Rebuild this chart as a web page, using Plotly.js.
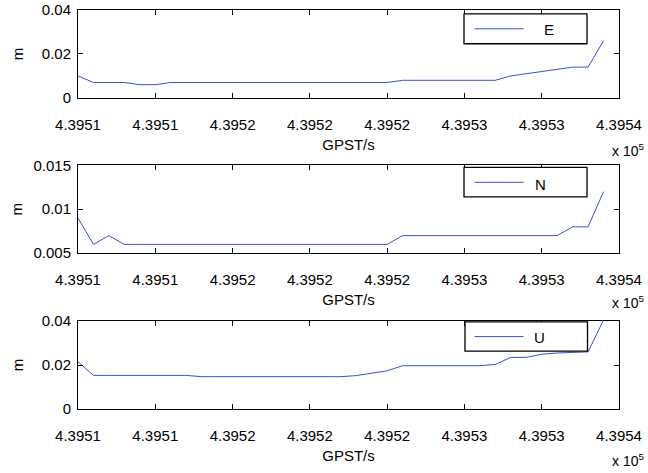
<!DOCTYPE html>
<html>
<head>
<meta charset="utf-8">
<script src="https://cdn.plot.ly/plotly-3.0.1.min.js"></script>
<style>html,body{margin:0;padding:0;background:#fff;}#chart{width:648px;height:473px;}</style>
</head>
<body>
<div id="chart"></div>
<script>
// GPS seconds of week
var gpst = [439505,439506,439507,439508,439509,439510,439511,439512,439513,439514,
            439515,439516,439517,439518,439519,439520,439521,439522,439523,439524,
            439525,439526,439527,439528,439529,439530,439531,439532,439533,439534,
            439535,439536,439537,439538,439539];
var tickVals = [439505,439510,439515,439520,439525,439530,439535,439540];
var tickText = ["4.3951","4.3951","4.3952","4.3952","4.3952","4.3953","4.3953","4.3954"];

// 35 values each (k = 0..34)
var seriesE = [0.010,0.007,0.007,0.007,0.006,0.006,0.007,
               0.007,0.007,0.007,0.007,0.007,0.007,0.007,
               0.007,0.007,0.007,0.007,0.007,0.007,0.007,
               0.008,0.008,0.008,0.008,0.008,0.008,0.008,
               0.010,0.011,0.012,0.013,0.014,0.014,0.026];
var seriesN = [0.009,0.006,0.007,0.006,0.006,0.006,0.006,
               0.006,0.006,0.006,0.006,0.006,0.006,0.006,
               0.006,0.006,0.006,0.006,0.006,0.006,0.006,
               0.007,0.007,0.007,0.007,0.007,0.007,0.007,
               0.007,0.007,0.007,0.007,0.008,0.008,0.012];
var seriesU = [0.0215,0.0153,0.0153,0.0153,0.0153,0.0153,0.0153,
               0.0153,0.0147,0.0147,0.0147,0.0147,0.0147,0.0147,
               0.0147,0.0147,0.0147,0.0147,0.0152,0.0162,0.0174,
               0.0197,0.0197,0.0197,0.0197,0.0197,0.0197,0.0203,
               0.0235,0.0235,0.0249,0.0255,0.0257,0.0260,0.0405];
var names = ["E","N","U"];

var W = 648, H = 473;
var M = {l:78, r:29, t:9.5, b:64};
var PW = W - M.l - M.r, PH = H - M.t - M.b;
function px(x){ return (x - M.l) / PW; }
function py(y){ return (H - M.b - y) / PH; }

var FONT = {family: "Liberation Sans, Arial, Helvetica, sans-serif", size: 15, color: "#000"};
var LINE = "#3c50c8";

function xax(){
  return {
    domain:[0,1], range:[439505,439540], tickmode:"array", tickvals:tickVals, ticktext:tickText,
    ticks:"inside", ticklen:5, tickwidth:1, tickcolor:"#000",
    showline:true, linecolor:"#000", linewidth:1, mirror:"ticks",
    showgrid:false, zeroline:false, tickfont:FONT, ticklabelstandoff:13,
    title:{text:"GPST/s", font:FONT, standoff:7}, automargin:false
  };
}
function yax(dom, rng, tv, tt, so){
  return {
    domain:dom, range:rng, tickmode:"array", tickvals:tv, ticktext:tt,
    ticks:"inside", ticklen:5, tickwidth:1, tickcolor:"#000",
    showline:true, linecolor:"#000", linewidth:1, mirror:"ticks",
    showgrid:false, zeroline:false, tickfont:FONT, ticklabelstandoff:3,
    title:{text:"m", font:FONT, standoff:so}, automargin:false
  };
}

var traces = [
  {x:gpst, y:seriesE, xaxis:"x", yaxis:"y", name:names[0], type:"scatter", mode:"lines", line:{color:LINE, width:1}},
  {x:gpst, y:seriesN, xaxis:"x2", yaxis:"y2", name:names[1], type:"scatter", mode:"lines", line:{color:LINE, width:1}},
  {x:gpst, y:seriesU, xaxis:"x3", yaxis:"y3", name:names[2], type:"scatter", mode:"lines", line:{color:LINE, width:1}}
];

var d1 = [py(97.5), py(9.5)], d2 = [py(253), py(165)], d3 = [py(409), py(321)];

var layout = {
  width:W, height:H, margin:M, showlegend:false,
  paper_bgcolor:"#fff", plot_bgcolor:"#fff", font:FONT,
  xaxis: Object.assign(xax(), {anchor:"y"}),
  xaxis2: Object.assign(xax(), {anchor:"y2", matches:"x"}),
  xaxis3: Object.assign(xax(), {anchor:"y3", matches:"x"}),
  yaxis: Object.assign(yax(d1,[0,0.04],[0,0.02,0.04],["0","0.02","0.04"],14), {anchor:"x"}),
  yaxis2: Object.assign(yax(d2,[0.005,0.015],[0.005,0.01,0.015],["0.005","0.01","0.015"],7), {anchor:"x2"}),
  yaxis3: Object.assign(yax(d3,[0,0.04],[0,0.02,0.04],["0","0.02","0.04"],14), {anchor:"x3"}),
  shapes:[], annotations:[]
};

// MATLAB-style legend boxes
var legBoxes = [
  {x0:464, x1:587, y0:13.3, y1:43.3, ly:28.3, tx:542, ty:29.5},
  {x0:464, x1:587, y0:167, y1:196.7, ly:182, tx:533, ty:183.8},
  {x0:465, x1:587.5, y0:321.7, y1:351, ly:336.5, tx:532, ty:337}
];
legBoxes.forEach(function(b, i){
  layout.shapes.push({type:"rect", xref:"paper", yref:"paper", x0:px(b.x0), x1:px(b.x1), y0:py(b.y1), y1:py(b.y0),
    line:{color:"#000", width:1.3}, fillcolor:"#fff", layer:"above"});
  layout.shapes.push({type:"line", xref:"paper", yref:"paper", x0:px(474.5), x1:px(523.5), y0:py(b.ly), y1:py(b.ly),
    line:{color:LINE, width:1}, layer:"above"});
  layout.annotations.push({xref:"paper", yref:"paper", x:px(b.tx), y:py(b.ty), xanchor:"left", yanchor:"middle",
    text:names[i], showarrow:false, font:FONT});
});
// exponent labels
[150, 302, 460].forEach(function(y){
  layout.annotations.push({xref:"paper", yref:"paper", x:px(610), y:py(y), xanchor:"left", yanchor:"middle",
    text:"x 10<sup>5</sup>", showarrow:false, font:{family:FONT.family, size:14, color:"#000"}});
});

Plotly.newPlot("chart", traces, layout, {staticPlot:true, displayModeBar:false});
</script>
</body>
</html>
